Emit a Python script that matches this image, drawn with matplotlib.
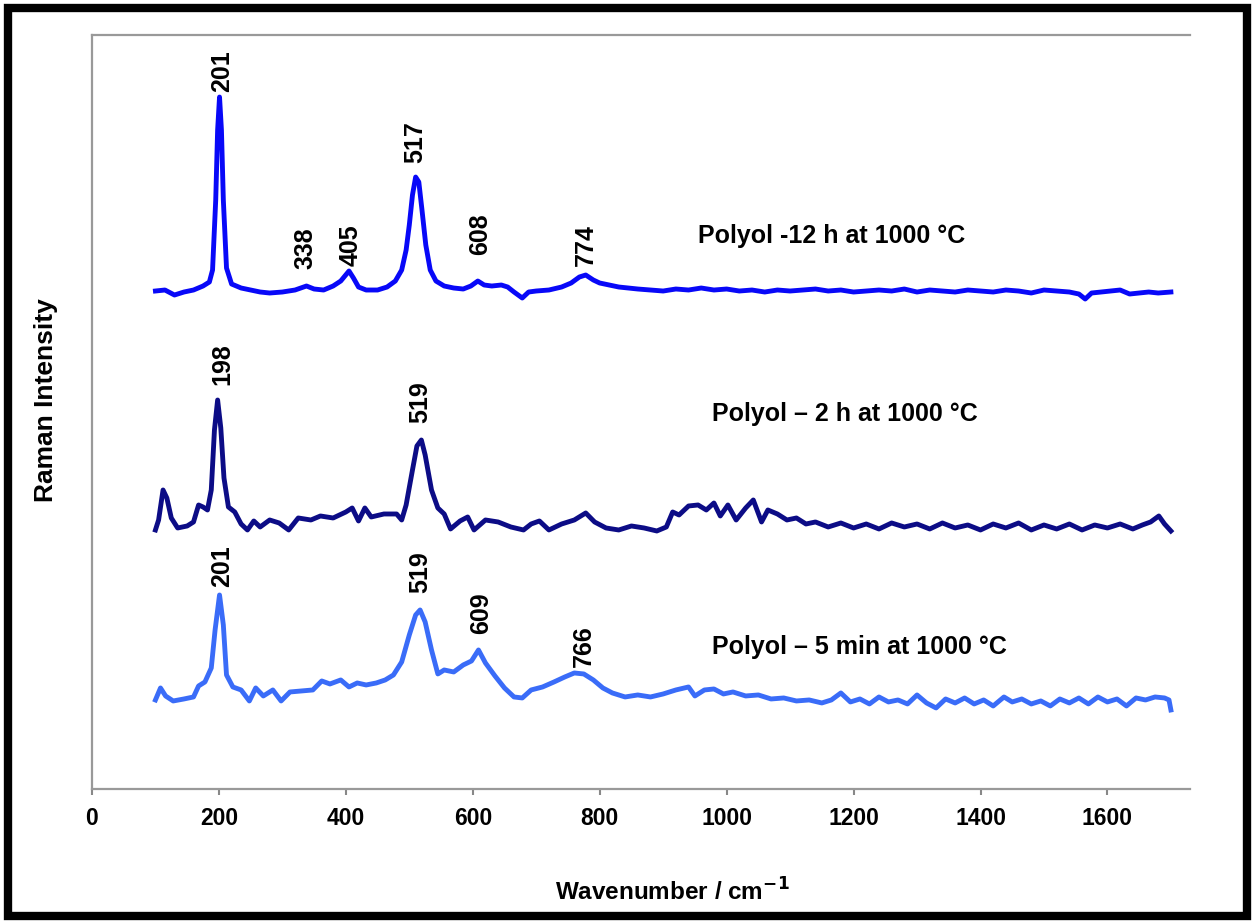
import matplotlib
matplotlib.use('Agg')
import matplotlib.pyplot as plt
from matplotlib.patches import Rectangle

plt.rcParams['font.family'] = ['Liberation Sans', 'DejaVu Sans']
plt.rcParams['font.weight'] = 'bold'

# Polyol - 12 h at 1000 C (top trace, arbitrary intensity incl. offset)
wn_12h = [100, 115, 130, 145, 160, 175, 185, 190, 195, 198, 201, 204, 207, 212, 220, 235, 250, 265,
          280, 300, 320, 338, 350, 365, 380, 392, 405, 412, 420, 432, 450, 465, 478, 488, 495, 500,
          505, 510, 515, 520, 526, 533, 542, 555, 570, 585, 597, 608, 618, 630, 645, 655, 665, 678,
          688, 700, 720, 740, 755, 768, 778, 790, 800, 815, 830, 845, 860, 880, 900, 920, 940, 960,
          980, 1000, 1020, 1040, 1060, 1080, 1100, 1120, 1140, 1160, 1180, 1200, 1220, 1240, 1260,
          1280, 1300, 1320, 1340, 1360, 1380, 1400, 1420, 1440, 1460, 1480, 1500, 1520, 1540, 1555,
          1565, 1575, 1590, 1605, 1620, 1635, 1650, 1665, 1680, 1700]
int_12h = [498, 499, 494, 497, 499, 503, 507, 519, 589, 659, 692, 659, 589, 521, 505, 501, 499, 497,
           496, 497, 499, 503, 500, 499, 503, 508, 518, 511, 502, 499, 499, 502, 508, 519, 539, 564,
           594, 612, 607, 579, 544, 519, 508, 503, 501, 500, 503, 508, 504, 503, 504, 502, 497, 491,
           497, 498, 499, 502, 506, 512, 514, 509, 506, 504, 502, 501, 500, 499, 498, 500, 499, 501,
           499, 500, 498, 499, 497, 499, 498, 499, 500, 498, 499, 497, 498, 499, 498,
           500, 497, 499, 498, 497, 499, 498, 497, 499, 498, 496, 499, 498, 497, 495,
           490, 496, 497, 498, 499, 495, 496, 497, 496, 497]

# Polyol - 2 h at 1000 C (middle trace)
wn_2h = [100, 105, 112, 118, 125, 135, 150, 160, 168, 175, 182, 188, 193, 198, 203, 208, 215, 225,
         235, 245, 255, 265, 280, 295, 310, 325, 345, 360, 380, 400, 410, 420, 430, 440, 460, 480,
         488, 495, 505, 512, 519, 525, 535, 545, 555, 565, 580, 592, 602, 620, 640, 660, 680, 692,
         705, 720, 740, 760, 778, 792, 810, 830, 850, 870, 890, 905, 915, 925, 940, 955, 968, 980,
         990, 1002, 1015, 1030, 1042, 1055, 1065, 1080, 1095, 1110, 1125, 1140, 1160, 1180, 1200,
         1220, 1240, 1260, 1280, 1300, 1320, 1340, 1360, 1380, 1400, 1420, 1440, 1460, 1480, 1500,
         1520, 1540, 1560, 1580, 1600, 1620, 1640, 1655, 1668, 1681, 1690, 1700]
int_2h = [259, 269, 299, 291, 271, 261, 263, 267, 284, 282, 279, 299, 359, 389, 361, 311, 282, 277,
          265, 259, 268, 262, 269, 266, 259, 271, 269, 273, 271, 277, 281, 268, 281, 272, 275, 275,
          269, 284, 319, 343, 349, 334, 299, 281, 275, 260, 268, 272, 259, 269, 267, 262, 259, 265,
          268, 259, 265, 269, 276, 267, 261, 259, 263, 261, 258, 262, 277, 274, 283, 284, 279, 286,
          273, 284, 269, 281, 289, 267, 279, 275, 269, 271, 265, 267, 262, 266, 261,
          265, 260, 266, 262, 265, 260, 266, 261, 264, 259, 265, 261, 266, 259, 264,
          260, 265, 259, 264, 261, 265, 260, 264, 267, 273, 265, 258]

# Polyol - 5 min at 1000 C (bottom trace)
wn_5min = [100, 108, 116, 128, 145, 160, 168, 178, 188, 194, 201, 207, 212, 222, 235, 248, 258, 270,
           285, 298, 312, 330, 348, 362, 375, 392, 405, 418, 432, 448, 462, 475, 488, 500, 510, 517,
           525, 535, 545, 555, 570, 585, 598, 609, 620, 635, 650, 665, 678, 692, 710, 728, 745, 760,
           775, 790, 805, 820, 840, 860, 880, 900, 920, 940, 950, 965, 980, 995, 1010, 1030, 1050,
           1070, 1090, 1110, 1130, 1150, 1165, 1180, 1195, 1210, 1225, 1240, 1255, 1270, 1285, 1300,
           1315, 1330, 1345, 1360, 1375, 1390, 1405, 1420, 1437, 1450, 1465, 1480, 1495, 1510, 1525,
           1540, 1555, 1570, 1585, 1600, 1615, 1630, 1645, 1660, 1675, 1690, 1697, 1700]
int_5min = [89, 101, 93, 88, 90, 92, 103, 107, 121, 159, 194, 164, 114, 102, 99, 88, 101, 93,
            99, 88, 97, 98, 99, 108, 105, 109, 102, 106, 104, 106, 109, 114, 127, 154, 174, 179,
            167, 139, 115, 119, 117, 124, 128, 139, 126, 113, 101, 92, 91, 99, 102, 107, 112, 116,
            115, 109, 101, 96, 92, 94, 92, 95, 99, 102, 93, 99, 100, 95, 97, 93, 94,
            90, 91, 88, 89, 86, 89, 96, 87, 90, 85, 92, 87, 89, 85, 94,
            86, 81, 90, 86, 91, 85, 89, 83, 92, 87, 90, 85, 88, 83, 90,
            86, 91, 85, 92, 87, 90, 83, 91, 89, 92, 91, 89, 79]

# peak labels: (text, x, y)
peak_labels = [('201', 205, 718), ('338', 337, 541), ('405', 408, 544), ('517', 510, 647),
               ('608', 612, 555), ('774', 778, 544),
               ('198', 205, 425), ('519', 518, 387),
               ('201', 205, 223), ('519', 518, 217), ('609', 613, 176), ('766', 775, 143)]

series_labels = [('Polyol -12 h at 1000 \u00b0C', 955, 553),
                 ('Polyol \u2013 2 h at 1000 \u00b0C', 977, 375),
                 ('Polyol \u2013 5 min at 1000 \u00b0C', 977, 142)]

fig = plt.figure(figsize=(12.58, 9.22), dpi=100)
ax = fig.add_axes([0.0731, 0.1443, 0.8728, 0.8177])

ax.plot(wn_12h, int_12h, color='#0808f8', lw=3.5, solid_joinstyle='round')
ax.plot(wn_2h, int_2h, color='#0c0c86', lw=3.5, solid_joinstyle='round')
ax.plot(wn_5min, int_5min, color='#3a6cf8', lw=3.5, solid_joinstyle='round')

for txt, x, y in peak_labels:
    ax.text(x, y, txt, rotation=90, ha='center', va='center', fontsize=18, fontweight='bold')
for txt, x, y in series_labels:
    ax.text(x, y, txt, ha='left', va='center', fontsize=18, fontweight='bold')

ax.set_xlim(0, 1730)
ax.set_ylim(0, 754)
ax.set_xticks(range(0, 1601, 200))
ax.set_yticks([])
for s in ['left', 'top', 'bottom']:
    ax.spines[s].set_color('#999999')
    ax.spines[s].set_linewidth(1.6)
ax.spines['right'].set_visible(False)
ax.tick_params(axis='x', direction='out', length=4, width=1.5, color='#888888',
               labelsize=16.5, pad=9)
for lab in ax.get_xticklabels():
    lab.set_fontweight('bold')

ax.set_xlabel('Wavenumber / cm$^{\\mathbf{-1}}$', fontsize=17.5, fontweight='bold')
ax.set_ylabel('Raman Intensity', fontsize=19, fontweight='bold')
ax.xaxis.set_label_coords(0.529, -0.119)
ax.yaxis.set_label_coords(-0.031, 0.516)

fig.patches.append(Rectangle((0.0064, 0.0065), 0.9849, 0.9848, transform=fig.transFigure,
                             fill=False, ec='black', lw=6))

plt.savefig('out.png', dpi=100)
